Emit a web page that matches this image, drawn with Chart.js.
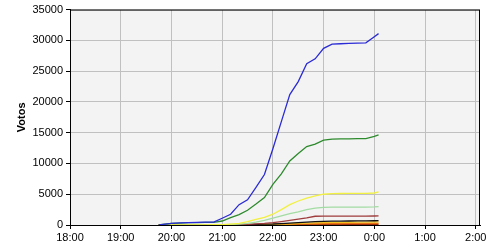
<!DOCTYPE html>
<html lang="es">
  <head>
    <meta charset="UTF-8" />
    <script src="https://cdn.jsdelivr.net/npm/chart.js"></script>
    <title>Votos</title>
    <style>
      html, body { margin: 0; padding: 0; background: #fff; }
      #wrap { width: 500px; height: 250px; }
    </style>
  </head>
  <body>
    <div id="wrap"><canvas id="chart" width="500" height="250"></canvas></div>

    <script>
      // sample times (after midnight belongs to next day)
      const times = ['19:45', '19:50', '20:00', '20:10', '20:20', '20:30', '20:40', '20:50',
        '21:00', '21:10', '21:20', '21:30', '21:40', '21:50', '22:00', '22:10', '22:20',
        '22:30', '22:40', '22:50', '23:00', '23:10', '23:20', '23:30', '23:40', '23:50',
        '0:00', '0:05']

      const blue = [0, 100, 280, 350, 400, 430, 460, 480,
        1100, 1750, 3300, 4100, 6100, 8200, 12400, 16800, 21200,
        23300, 26200, 27000, 28700, 29400, 29450, 29500, 29550, 29600,
        30600, 31100]
      const green = [0, 80, 250, 320, 370, 400, 420, 440,
        650, 1200, 1700, 2400, 3400, 4450, 6600, 8300, 10400,
        11600, 12750, 13150, 13800, 13950, 14000, 14010, 14020, 14050,
        14400, 14650]
      const yellow = [0, 0, 10, 10, 20, 20, 30, 40,
        50, 150, 280, 530, 900, 1250, 1750, 2500, 3300,
        3900, 4350, 4750, 5000, 5100, 5120, 5130, 5140, 5150,
        5200, 5400]
      const lightGreen = [0, 0, 5, 5, 10, 10, 15, 20,
        30, 80, 150, 280, 480, 750, 1100, 1500, 1850,
        2150, 2500, 2750, 2880, 2900, 2910, 2910, 2920, 2920,
        2950, 3000]
      const darkRed = [0, 0, 0, 0, 5, 5, 10, 10,
        20, 40, 70, 100, 170, 250, 370, 550, 750,
        950, 1150, 1420, 1440, 1450, 1450, 1450, 1450, 1450,
        1460, 1480]
      const black = [0, 0, 0, 0, 0, 5, 5, 10,
        15, 30, 50, 70, 100, 130, 160, 230, 320,
        400, 480, 550, 600, 630, 640, 650, 660, 670,
        690, 700]
      const gold = [0, 0, 0, 0, 0, 0, 5, 5,
        10, 20, 30, 40, 60, 80, 100, 150, 200,
        260, 310, 360, 400, 430, 440, 450, 460, 470,
        490, 500]
      const orange = [0, 0, 0, 0, 0, 0, 0, 5,
        5, 10, 15, 20, 30, 40, 50, 80, 110,
        150, 180, 200, 220, 240, 245, 250, 255, 260,
        265, 270]
      const brown = [0, 0, 0, 0, 0, 0, 0, 0,
        0, 5, 5, 10, 10, 15, 20, 30, 40,
        50, 60, 70, 80, 85, 90, 90, 95, 95,
        100, 100]

      const toMinutes = (t) => {
        let [h, m] = t.split(':').map(Number)
        if (h < 12) h += 24
        return (h - 18) * 60 + m
      }
      const xs = times.map(toMinutes)
      const pts = (arr) => arr.map((v, i) => ({ x: xs[i], y: v }))

      const series = [
        { label: 'A', data: blue, color: '#2b2bd6' },
        { label: 'B', data: green, color: '#2d8a2d' },
        { label: 'C', data: yellow, color: '#f2f040' },
        { label: 'D', data: lightGreen, color: '#a3dca3' },
        { label: 'E', data: darkRed, color: '#a03c3c' },
        { label: 'F', data: black, color: '#111111' },
        { label: 'G', data: gold, color: '#f0c020' },
        { label: 'H', data: orange, color: '#e87010' },
        { label: 'I', data: brown, color: '#a03010' },
      ]

      const plotFrame = {
        id: 'plotFrame',
        beforeDraw(chart) {
          const { ctx, chartArea: a } = chart
          ctx.save()
          ctx.fillStyle = '#f3f3f3'
          ctx.fillRect(a.left, a.top, a.right - a.left, a.bottom - a.top)
          ctx.restore()
        },
        afterDraw(chart) {
          const { ctx, chartArea: a } = chart
          ctx.save()
          ctx.strokeStyle = '#000'
          ctx.lineWidth = 1
          ctx.strokeRect(a.left + 0.5, a.top + 0.5, a.right - a.left - 1, a.bottom - a.top)
          ctx.restore()
        },
      }

      const font = { family: "'Liberation Sans', Arial, sans-serif", size: 11 }

      new Chart(document.getElementById('chart').getContext('2d'), {
        type: 'line',
        data: {
          datasets: series.map((s) => ({
            label: s.label,
            data: pts(s.data),
            borderColor: s.color,
            borderWidth: 1.3,
            pointRadius: 0,
            fill: false,
            tension: 0,
          })),
        },
        options: {
          responsive: false,
          animation: false,
          layout: { padding: { top: 5, right: 20, left: 0, bottom: 0 } },
          plugins: { legend: { display: false }, tooltip: { enabled: false } },
          scales: {
            x: {
              type: 'linear',
              min: 0,
              max: 485,
              afterFit: (s) => { s.height = 25 },
              ticks: {
                stepSize: 60,
                includeBounds: false,
                autoSkip: false,
                maxRotation: 0,
                padding: 2,
                color: '#000',
                font,
                callback: (v) => ((18 + v / 60) % 24) + ':00',
              },
              grid: { color: '#c0c0c0', tickColor: '#000', tickLength: 4 },
              border: { color: '#000' },
            },
            y: {
              min: 0,
              max: 35000,
              afterFit: (s) => { s.width = 70 },
              ticks: { stepSize: 5000, padding: 3, color: '#000', font, callback: (v) => String(v) },
              grid: { color: '#c0c0c0', tickColor: '#000', tickLength: 4 },
              border: { color: '#000' },
              title: {
                display: true,
                text: 'Votos',
                color: '#000',
                font: { family: font.family, size: 11, weight: 'bold' },
                padding: { top: 15, bottom: 0 },
              },
            },
          },
        },
        plugins: [plotFrame],
      })
    </script>
  </body>
</html>
